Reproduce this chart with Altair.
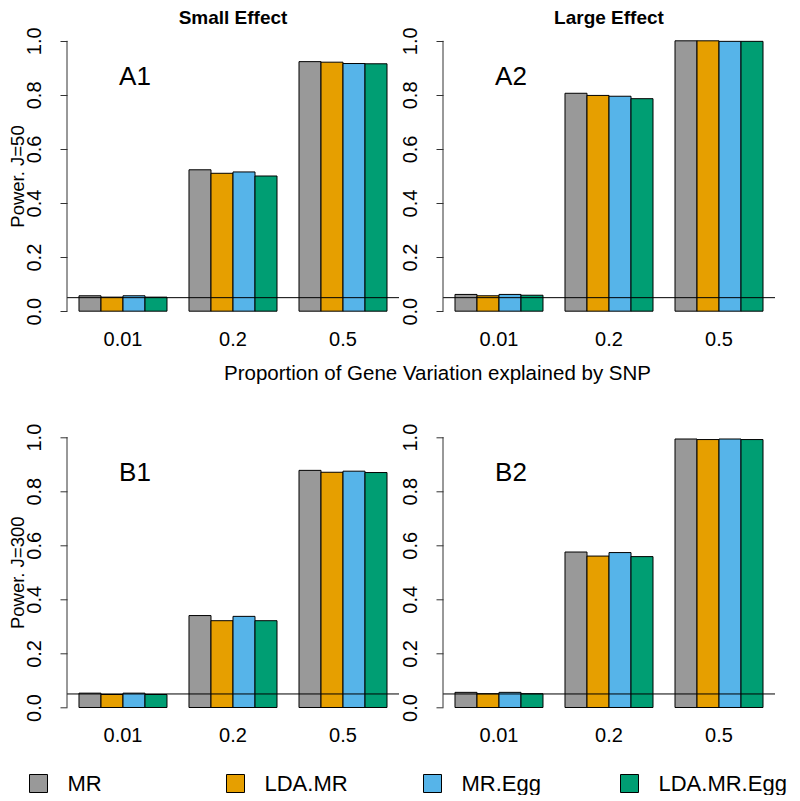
import altair as alt
import pandas as pd

groups = ["0.01", "0.2", "0.5"]
methods = ["MR", "LDA.MR", "MR.Egg", "LDA.MR.Egg"]
colors = ["#999999", "#E69F00", "#56B4E9", "#009E73"]
threshold = [0.05]
yticks = [0.0, 0.2, 0.4, 0.6, 0.8, 1.0]

# power values, one list per method, ordered as groups
A1_MR = [0.057, 0.523, 0.923]
A1_LDA_MR = [0.052, 0.510, 0.921]
A1_MR_EGG = [0.057, 0.515, 0.916]
A1_LDA_MR_EGG = [0.052, 0.500, 0.915]

A2_MR = [0.062, 0.806, 1.000]
A2_LDA_MR = [0.057, 0.798, 1.000]
A2_MR_EGG = [0.062, 0.795, 0.998]
A2_LDA_MR_EGG = [0.059, 0.786, 0.998]

B1_MR = [0.053, 0.340, 0.877]
B1_LDA_MR = [0.048, 0.321, 0.870]
B1_MR_EGG = [0.053, 0.337, 0.874]
B1_LDA_MR_EGG = [0.048, 0.321, 0.869]

B2_MR = [0.056, 0.575, 0.993]
B2_LDA_MR = [0.051, 0.560, 0.991]
B2_MR_EGG = [0.056, 0.573, 0.993]
B2_LDA_MR_EGG = [0.051, 0.558, 0.991]

FONT = "Liberation Sans"
W, H = 332, 292


def make_df(series):
    rows = []
    for m, vals in zip(methods, series):
        for g, v in zip(groups, vals):
            rows.append({"group": g, "method": m, "v": v})
    return pd.DataFrame(rows)


def panel(series, label, title=None, ytitle=None, xtitle=None):
    df = make_df(series)
    yaxis_kw = dict(
        values=yticks, format=".1f", domain=False, grid=False,
        tickSize=7, tickColor="#333333", tickWidth=1,
        labelAngle=270, labelAlign="center", labelBaseline="alphabetic",
        labelPadding=20, labelFontSize=20, labelColor="black",
        labelFlush=False, labelOverlap=False, labelFont=FONT,
    )
    if ytitle:
        yaxis_kw.update(
            title=ytitle, titleFontSize=18.5, titleFontWeight="normal",
            titleColor="black", titleFont=FONT, titleAngle=270,
            titleAlign="center", titleBaseline="alphabetic",
            titleX=-43.2, titleY=H / 2,
        )
    else:
        yaxis_kw.update(title=None)
    yaxis = alt.Axis(**yaxis_kw)
    yscale = alt.Scale(domain=[-0.04, 1.04], nice=False, zero=False)

    xaxis_kw = dict(
        domain=False, ticks=False, tickSize=0, labelAngle=0,
        labelPadding=7, labelFontSize=20, labelColor="black",
        labelBaseline="top", labelFont=FONT,
    )
    if xtitle:
        xaxis_kw.update(
            title=xtitle, titleFontSize=20.5, titleFontWeight="normal",
            titleColor="black", titleFont=FONT, titleAlign="center",
            titleBaseline="alphabetic", titleX=370, titleY=57.8,
        )
    else:
        xaxis_kw.update(title=None)

    bars = alt.Chart(df).mark_bar(stroke="black", strokeWidth=1, opacity=1).encode(
        x=alt.X("group:N", sort=groups,
                scale=alt.Scale(paddingInner=0.2, paddingOuter=0.109),
                axis=alt.Axis(**xaxis_kw)),
        xOffset=alt.XOffset("method:N", sort=methods,
                            scale=alt.Scale(paddingInner=0, paddingOuter=0)),
        y=alt.Y("v:Q", scale=yscale, axis=yaxis),
        y2=alt.datum(0),
        color=alt.Color(
            "method:N", sort=methods,
            scale=alt.Scale(domain=methods, range=colors),
            legend=alt.Legend(
                orient="none", legendX=-39.5, legendY=742.5,
                direction="horizontal", columns=4, gridAlign="all",
                columnPadding=28, symbolType="square", symbolSize=324,
                symbolStrokeColor="black", symbolStrokeWidth=1,
                symbolOpacity=1, labelFontSize=22, labelOffset=18,
                labelFont=FONT, labelColor="black", title=None, padding=0,
            ),
        ),
    )

    hline = alt.Chart(pd.DataFrame({"v": threshold})).mark_rule(
        color="black", strokeWidth=1
    ).encode(y=alt.Y("v:Q", scale=yscale, axis=yaxis))

    yline = alt.Chart(pd.DataFrame({"v": [yticks[0]], "v2": [yticks[-1]]})).mark_rule(
        color="#333333", strokeWidth=1
    ).encode(x=alt.value(0), y=alt.Y("v:Q", scale=yscale, axis=yaxis), y2="v2:Q")

    lab = alt.Chart(pd.DataFrame({"v": [0.867], "t": [label]})).mark_text(
        fontSize=26, font=FONT, align="center", baseline="middle", color="black"
    ).encode(x=alt.value(68), y=alt.Y("v:Q", scale=yscale, axis=yaxis), text="t:N")

    layers = [bars, hline, yline, lab]
    if title:
        ttl = alt.Chart(pd.DataFrame({"t": [title]})).mark_text(
            fontSize=19, fontWeight="bold", font=FONT, align="center",
            baseline="alphabetic", color="black",
        ).encode(x=alt.value(W / 2), y=alt.value(-6), text="t:N")
        layers.append(ttl)
    return alt.layer(*layers).properties(width=W, height=H)


a1 = panel([A1_MR, A1_LDA_MR, A1_MR_EGG, A1_LDA_MR_EGG], "A1", title="Small Effect",
           ytitle="Power. J=50", xtitle="Proportion of Gene Variation explained by SNP")
a2 = panel([A2_MR, A2_LDA_MR, A2_MR_EGG, A2_LDA_MR_EGG], "A2", title="Large Effect")
b1 = panel([B1_MR, B1_LDA_MR, B1_MR_EGG, B1_LDA_MR_EGG], "B1", ytitle="Power. J=300")
b2 = panel([B2_MR, B2_LDA_MR, B2_MR_EGG, B2_LDA_MR_EGG], "B2")

chart = alt.concat(
    a1, a2, b1, b2, columns=2, spacing={"row": 104.3, "column": 44},
    bounds="flush", padding={"left": 0, "top": 1, "right": 0, "bottom": 0},
).configure(font=FONT).configure_view(stroke="transparent", strokeWidth=0)

chart.save("out.html", embed_options={"renderer": "svg", "actions": False})
